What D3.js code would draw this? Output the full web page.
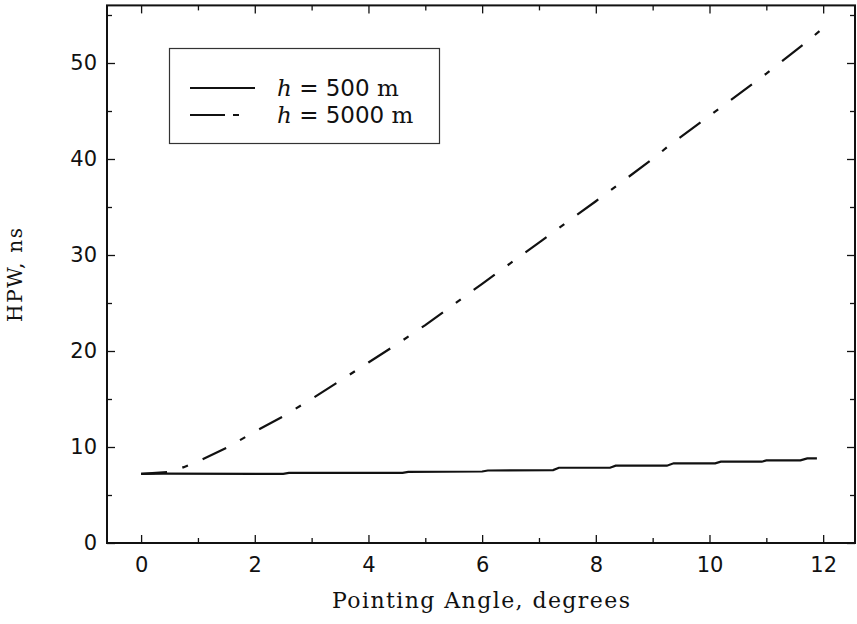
<!DOCTYPE html>
<html>
<head>
<meta charset="utf-8">
<script src="https://cdn.jsdelivr.net/npm/d3@7"></script>
<style>
  html, body { margin: 0; padding: 0; background: #fff; }
  svg { display: block; }
</style>
</head>
<body>
<svg id="chart" width="857" height="624"></svg>
<script>
// Half-power width (HPW) versus pointing angle for two altitudes
const xTicks = [0, 2, 4, 6, 8, 10, 12];
const xMinorTicks = [1, 3, 5, 7, 9, 11];
const yTicks = [0, 10, 20, 30, 40, 50];
const yMinorTicks = [5, 15, 25, 35, 45, 55];

const seriesNames = ["500", "5000"];

// h = 500 m (stepped, nearly flat)
const angle500 = [0, 0.4, 2.5, 2.6, 4.6, 4.7, 6.0, 6.1, 7.25, 7.35, 8.25, 8.35, 9.25, 9.37, 10.1, 10.2, 10.92, 11.0, 11.6, 11.72, 11.89];
const hpw500   = [7.2, 7.22, 7.2, 7.3, 7.3, 7.4, 7.45, 7.55, 7.6, 7.84, 7.84, 8.05, 8.05, 8.3, 8.3, 8.47, 8.47, 8.61, 8.61, 8.82, 8.82];

// h = 5000 m
const angle5000 = [0, 0.5, 0.75, 1.0, 1.5, 2.0, 2.5, 3.0, 3.5, 4.0, 4.5, 5.0, 6.0, 7.0, 8.0, 9.0, 9.31, 10.0, 11.0, 11.71, 11.95];
const hpw5000   = [7.2, 7.4, 7.9, 8.5, 9.9, 11.6, 13.2, 15.0, 16.9, 18.8, 20.7, 22.7, 27.0, 31.3, 35.6, 40.0, 41.5, 44.5, 48.9, 52.2, 53.4];

const svg = d3.select("#chart");
const ink = "#111";

const x = d3.scaleLinear().domain([-0.6, 12.56]).range([107, 855]);
const y = d3.scaleLinear().domain([0, 56]).range([543, 5.4]);

const sansNum = "'DejaVu Sans', sans-serif";
const serif = "'DejaVu Serif', serif";

// Frame
svg.append("rect")
  .attr("x", x.range()[0]).attr("y", y.range()[1])
  .attr("width", x.range()[1] - x.range()[0])
  .attr("height", y.range()[0] - y.range()[1])
  .attr("fill", "none").attr("stroke", ink).attr("stroke-width", 2);

// Axes with inward ticks
function styleAxis(g) {
  g.select(".domain").remove();
  g.selectAll("line").attr("stroke", ink).attr("stroke-width", 1.3);
}

// Bottom
svg.append("g").attr("transform", `translate(0,${y.range()[0]})`)
  .call(d3.axisBottom(x).tickValues(xTicks).tickSize(-8).tickPadding(14).tickFormat(d3.format("d")))
  .call(styleAxis)
  .call(g => g.selectAll("text").attr("font-family", sansNum).attr("font-size", 21).attr("fill", ink));
svg.append("g").attr("transform", `translate(0,${y.range()[0]})`)
  .call(d3.axisBottom(x).tickValues(xMinorTicks).tickSize(-5).tickFormat(""))
  .call(styleAxis);

// Top
svg.append("g").attr("transform", `translate(0,${y.range()[1]})`)
  .call(d3.axisTop(x).tickValues(xTicks).tickSize(-8).tickFormat(""))
  .call(styleAxis);
svg.append("g").attr("transform", `translate(0,${y.range()[1]})`)
  .call(d3.axisTop(x).tickValues(xMinorTicks).tickSize(-5).tickFormat(""))
  .call(styleAxis);

// Left
svg.append("g").attr("transform", `translate(${x.range()[0]},0)`)
  .call(d3.axisLeft(y).tickValues(yTicks).tickSize(-8).tickPadding(10).tickFormat(d3.format("d")))
  .call(styleAxis)
  .call(g => g.selectAll("text").attr("font-family", sansNum).attr("font-size", 21).attr("fill", ink));
svg.append("g").attr("transform", `translate(${x.range()[0]},0)`)
  .call(d3.axisLeft(y).tickValues(yMinorTicks).tickSize(-5).tickFormat(""))
  .call(styleAxis);

// Right
svg.append("g").attr("transform", `translate(${x.range()[1]},0)`)
  .call(d3.axisRight(y).tickValues(yTicks).tickSize(-8).tickFormat(""))
  .call(styleAxis);
svg.append("g").attr("transform", `translate(${x.range()[1]},0)`)
  .call(d3.axisRight(y).tickValues(yMinorTicks).tickSize(-5).tickFormat(""))
  .call(styleAxis);

// Axis titles
svg.append("text")
  .attr("x", 481).attr("y", 608)
  .attr("text-anchor", "middle")
  .attr("font-family", serif).attr("font-size", 22)
  .attr("textLength", 298).attr("lengthAdjust", "spacing")
  .attr("fill", ink)
  .text("Pointing Angle, degrees");

svg.append("text")
  .attr("transform", "translate(22,275) rotate(-90)")
  .attr("text-anchor", "middle")
  .attr("font-family", serif).attr("font-size", 20)
  .attr("textLength", 94).attr("lengthAdjust", "spacing")
  .attr("fill", ink)
  .text("HPW, ns");

// Curves
const line = d3.line().x(d => x(d[0])).y(d => y(d[1]));
const data500 = angle500.map((a, i) => [a, hpw500[i]]);
const data5000 = angle5000.map((a, i) => [a, hpw5000[i]]);

svg.append("path").datum(data500)
  .attr("d", line)
  .attr("fill", "none").attr("stroke", ink).attr("stroke-width", 2.2);

svg.append("path").datum(data5000)
  .attr("d", line)
  .attr("fill", "none").attr("stroke", ink).attr("stroke-width", 2.2)
  .attr("stroke-dasharray", "26,16,6,16");

// Legend
const lg = svg.append("g");
lg.append("rect")
  .attr("x", 169.5).attr("y", 48.5).attr("width", 270).attr("height", 95)
  .attr("fill", "#fff").attr("stroke", "#333").attr("stroke-width", 1.2);

const legendRows = [
  { name: seriesNames[0], yy: 88, dash: null },
  { name: seriesNames[1], yy: 115, dash: "35,8,6,200" }
];
legendRows.forEach(r => {
  lg.append("line")
    .attr("x1", 190).attr("x2", 255).attr("y1", r.yy).attr("y2", r.yy)
    .attr("stroke", ink).attr("stroke-width", 2)
    .attr("stroke-dasharray", r.dash);
  const t = lg.append("text")
    .attr("x", 277).attr("y", r.yy + 8)
    .attr("font-size", 23).attr("fill", ink);
  t.append("tspan").attr("font-family", serif).attr("font-style", "italic").text("h");
  t.append("tspan").attr("font-family", sansNum).text(" = " + r.name + " ");
  t.append("tspan").attr("font-family", serif).text("m");
});
</script>
</body>
</html>
